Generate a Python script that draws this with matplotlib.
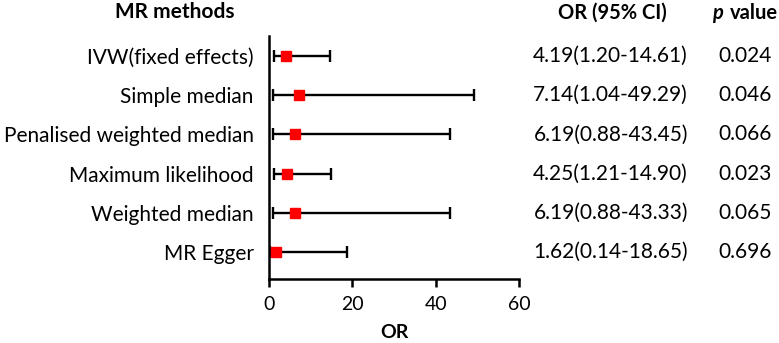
import numpy as np
import matplotlib
matplotlib.use("Agg")
import matplotlib.pyplot as plt
from matplotlib import transforms

# forest plot of MR estimates
methods = ["IVW(fixed effects)", "Simple median", "Penalised weighted median",
           "Maximum likelihood", "Weighted median", "MR Egger"]
or_val = [4.19, 7.14, 6.19, 4.25, 6.19, 1.62]
ci_low = [1.20, 1.04, 0.88, 1.21, 0.88, 0.14]
ci_high = [14.61, 49.29, 43.45, 14.90, 43.33, 18.65]
or_text = ["4.19(1.20-14.61)", "7.14(1.04-49.29)", "6.19(0.88-43.45)",
           "4.25(1.21-14.90)", "6.19(0.88-43.33)", "1.62(0.14-18.65)"]
p_text = ["0.024", "0.046", "0.066", "0.023", "0.065", "0.696"]
xticks = [0, 20, 40, 60]

plt.rcParams['font.family'] = ['Lato', 'DejaVu Sans']

fig = plt.figure(figsize=(7.79, 3.43), dpi=100)
ax = fig.add_axes([269 / 779, 1 - 279 / 343, 250 / 779, 243 / 343])

n = len(methods)
y = np.arange(n, 0, -1)
or_val = np.array(or_val)
err = [or_val - np.array(ci_low), np.array(ci_high) - or_val]

ax.errorbar(or_val, y, xerr=err, fmt='none', ecolor='black', elinewidth=1.7,
            capsize=4, capthick=1.7, zorder=2)
ax.plot(or_val, y, 's', color='#ff0000', markersize=7.5, zorder=3)

ax.set_xlim(0, 60)
ax.set_ylim(0.31, 6.51)
ax.set_xticks(xticks)
ax.set_yticks(y)
ax.set_yticklabels(methods, fontsize=15)
ax.tick_params(axis='y', length=0, pad=11)
ax.tick_params(axis='x', length=6, width=1.8, labelsize=14, pad=6)
for s in ['top', 'right']:
    ax.spines[s].set_visible(False)
for s in ['left', 'bottom']:
    ax.spines[s].set_linewidth(1.8)

ax.set_xlabel('OR', fontsize=14, fontweight='bold', labelpad=8)

trans = transforms.blended_transform_factory(fig.transFigure, ax.transData)
for yi, t, p in zip(y, or_text, p_text):
    ax.text(688 / 779, yi, t, transform=trans, ha='right', va='center', fontsize=15)
    ax.text(772 / 779, yi, p, transform=trans, ha='right', va='center', fontsize=15)

fig.text(175 / 779, 1 - 12 / 343, 'MR methods', ha='center', va='center',
         fontsize=15, fontweight='bold')
fig.text(612 / 779, 1 - 13 / 343, 'OR (95% CI)', ha='center', va='center',
         fontsize=14.5, fontweight='bold')
fig.text(712 / 779, 1 - 13 / 343, 'p', ha='left', va='center',
         fontsize=14.5, fontweight='bold', fontstyle='italic')
fig.text(778 / 779, 1 - 13 / 343, 'value', ha='right', va='center',
         fontsize=14.5, fontweight='bold')

plt.savefig('out.png', dpi=100)
